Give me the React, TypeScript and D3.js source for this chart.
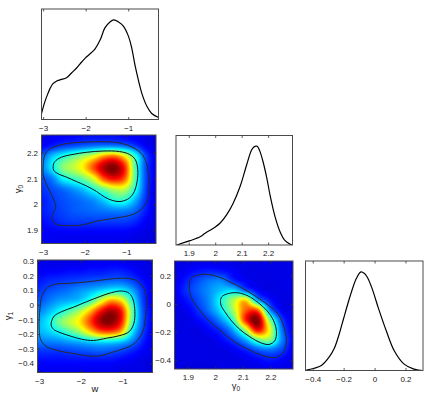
import React, { useMemo } from 'react';
import * as d3 from 'd3';

// ---------- tick labels ----------
const W_TICKS = [-3, -2, -1];
const G0_TICKS = [1.9, 2, 2.1, 2.2];
const G1_TICKS_FINE = [-0.4, -0.3, -0.2, -0.1, 0, 0.1, 0.2, 0.3];
const G1_TICKS = [-0.4, -0.2, 0, 0.2];

// ---------- axis ranges ----------
const W_RANGE = [-3.05, -0.3];
const G0_RANGE_A = [1.85, 2.27];
const G0_RANGE_C = [1.85, 2.28];
const G0_RANGE_M = [1.85, 2.29];
const G1_RANGE = [-0.46, 0.31];
const G1_RANGE_M = [-0.45, 0.31];

// ---------- marginal posteriors (normalised) ----------
const W_VALUES = [-3.05, -2.97, -2.9, -2.85, -2.78, -2.7, -2.6, -2.46, -2.34, -2.22, -2.1, -1.99, -1.88, -1.79, -1.67, -1.56, -1.44, -1.35, -1.24, -1.13, -1.01, -0.93, -0.85, -0.77, -0.69, -0.57, -0.46, -0.3];
const W_DENSITY = [0.06, 0.18, 0.26, 0.31, 0.36, 0.385, 0.4, 0.42, 0.47, 0.52, 0.58, 0.63, 0.67, 0.71, 0.8, 0.92, 0.98, 1.0, 0.98, 0.94, 0.84, 0.72, 0.54, 0.39, 0.26, 0.13, 0.06, 0.02];

const G0_VALUES = [1.853, 1.903, 1.941, 1.96, 1.991, 2.016, 2.041, 2.066, 2.092, 2.117, 2.136, 2.148, 2.157, 2.167, 2.18, 2.193, 2.205, 2.224, 2.243, 2.262, 2.287];
const G0_DENSITY = [0.0, 0.044, 0.084, 0.119, 0.17, 0.22, 0.305, 0.424, 0.593, 0.814, 0.966, 1.0, 1.0, 0.949, 0.831, 0.678, 0.509, 0.288, 0.135, 0.044, 0.0];

const G1_VALUES = [-0.445, -0.4, -0.347, -0.3, -0.265, -0.23, -0.203, -0.17, -0.152, -0.122, -0.091, -0.07, -0.05, -0.019, 0.022, 0.073, 0.124, 0.186, 0.247, 0.305];
const G1_DENSITY = [0.005, 0.02, 0.05, 0.13, 0.22, 0.38, 0.53, 0.71, 0.8, 0.93, 1.0, 0.985, 0.945, 0.83, 0.63, 0.4, 0.2, 0.067, 0.017, 0.0];

// ---------- 2D posterior grids (relative density) ----------
const GRID_W = [-3.05, -2.8, -2.55, -2.3, -2.05, -1.8, -1.55, -1.3, -1.05, -0.8, -0.55, -0.3];
const GRID_G0_ROWS = [2.27, 2.228, 2.186, 2.144, 2.102, 2.06, 2.018, 1.976, 1.934, 1.892, 1.85];
const GRID_G1_ROWS = [0.31, 0.24, 0.17, 0.1, 0.03, -0.04, -0.11, -0.18, -0.25, -0.32, -0.39, -0.46];
const GRID_G0_COLS = [1.85, 1.893, 1.936, 1.979, 2.022, 2.065, 2.108, 2.151, 2.194, 2.237, 2.28];

const Z_W_G0 = [
  [0.1, 0.11, 0.12, 0.12, 0.13, 0.13, 0.13, 0.13, 0.12, 0.11, 0.1, 0.09],
  [0.12, 0.15, 0.18, 0.2, 0.22, 0.24, 0.25, 0.25, 0.23, 0.18, 0.12, 0.1],
  [0.22, 0.32, 0.4, 0.47, 0.54, 0.62, 0.74, 0.78, 0.65, 0.42, 0.2, 0.11],
  [0.25, 0.36, 0.5, 0.56, 0.64, 0.8, 0.95, 1.0, 0.84, 0.45, 0.2, 0.11],
  [0.2, 0.25, 0.37, 0.43, 0.49, 0.6, 0.8, 0.88, 0.78, 0.45, 0.2, 0.11],
  [0.17, 0.2, 0.23, 0.27, 0.32, 0.4, 0.48, 0.56, 0.56, 0.4, 0.19, 0.1],
  [0.15, 0.18, 0.2, 0.22, 0.24, 0.27, 0.33, 0.41, 0.41, 0.3, 0.17, 0.1],
  [0.15, 0.17, 0.19, 0.21, 0.22, 0.23, 0.24, 0.25, 0.25, 0.22, 0.15, 0.1],
  [0.13, 0.15, 0.17, 0.18, 0.18, 0.18, 0.18, 0.18, 0.18, 0.16, 0.12, 0.1],
  [0.12, 0.12, 0.12, 0.12, 0.12, 0.12, 0.12, 0.12, 0.12, 0.11, 0.1, 0.09],
  [0.11, 0.11, 0.11, 0.11, 0.11, 0.11, 0.11, 0.11, 0.11, 0.1, 0.09, 0.09],
];

const Z_W_G1 = [
  [0.1, 0.1, 0.1, 0.1, 0.1, 0.11, 0.11, 0.11, 0.11, 0.1, 0.1, 0.09],
  [0.11, 0.12, 0.12, 0.13, 0.13, 0.14, 0.14, 0.15, 0.15, 0.13, 0.11, 0.1],
  [0.14, 0.16, 0.17, 0.18, 0.19, 0.2, 0.21, 0.22, 0.22, 0.19, 0.14, 0.1],
  [0.17, 0.2, 0.22, 0.24, 0.27, 0.3, 0.34, 0.38, 0.38, 0.3, 0.18, 0.11],
  [0.2, 0.24, 0.28, 0.3, 0.33, 0.42, 0.58, 0.72, 0.66, 0.42, 0.2, 0.11],
  [0.25, 0.3, 0.37, 0.45, 0.54, 0.68, 0.86, 0.96, 0.86, 0.5, 0.22, 0.12],
  [0.3, 0.36, 0.48, 0.56, 0.64, 0.8, 0.96, 1.0, 0.86, 0.48, 0.22, 0.12],
  [0.3, 0.33, 0.38, 0.45, 0.53, 0.66, 0.78, 0.8, 0.7, 0.38, 0.2, 0.11],
  [0.24, 0.25, 0.26, 0.28, 0.3, 0.33, 0.35, 0.35, 0.32, 0.25, 0.16, 0.1],
  [0.17, 0.17, 0.17, 0.18, 0.19, 0.2, 0.21, 0.2, 0.18, 0.15, 0.12, 0.1],
  [0.13, 0.13, 0.13, 0.13, 0.13, 0.13, 0.13, 0.13, 0.12, 0.11, 0.1, 0.09],
  [0.11, 0.11, 0.11, 0.11, 0.11, 0.11, 0.11, 0.11, 0.1, 0.1, 0.1, 0.09],
];

const Z_G0_G1 = [
  [0.1, 0.1, 0.1, 0.1, 0.1, 0.1, 0.1, 0.1, 0.1, 0.1, 0.1],
  [0.1, 0.12, 0.14, 0.15, 0.14, 0.12, 0.1, 0.1, 0.1, 0.1, 0.1],
  [0.1, 0.15, 0.2, 0.24, 0.25, 0.16, 0.12, 0.1, 0.1, 0.1, 0.1],
  [0.11, 0.17, 0.22, 0.27, 0.32, 0.34, 0.22, 0.13, 0.1, 0.1, 0.1],
  [0.1, 0.14, 0.2, 0.27, 0.4, 0.55, 0.66, 0.3, 0.15, 0.1, 0.1],
  [0.1, 0.11, 0.17, 0.25, 0.37, 0.55, 0.78, 0.78, 0.28, 0.12, 0.1],
  [0.1, 0.1, 0.13, 0.18, 0.28, 0.45, 0.84, 1.0, 0.52, 0.2, 0.1],
  [0.1, 0.1, 0.1, 0.13, 0.18, 0.3, 0.55, 0.88, 0.62, 0.25, 0.11],
  [0.1, 0.1, 0.1, 0.1, 0.13, 0.19, 0.3, 0.48, 0.52, 0.27, 0.12],
  [0.1, 0.1, 0.1, 0.1, 0.1, 0.12, 0.16, 0.22, 0.25, 0.2, 0.11],
  [0.1, 0.1, 0.1, 0.1, 0.1, 0.1, 0.11, 0.13, 0.15, 0.13, 0.1],
  [0.09, 0.09, 0.09, 0.09, 0.1, 0.1, 0.1, 0.1, 0.11, 0.1, 0.1],
];

// ---------- credible contours (68% inner, 95% outer) ----------
const C95_W_G0 = [[-3.01, 2.148], [-2.97, 2.193], [-2.851, 2.215], [-2.612, 2.231], [-2.294, 2.24], [-1.894, 2.243], [-1.496, 2.244], [-1.137, 2.238], [-0.858, 2.222], [-0.658, 2.199], [-0.539, 2.167], [-0.483, 2.122], [-0.483, 2.071], [-0.498, 2.02], [-0.603, 1.991], [-0.818, 1.965], [-1.097, 1.953], [-1.416, 1.945], [-1.735, 1.936], [-2.054, 1.922], [-2.373, 1.919], [-2.691, 1.924], [-2.795, 1.942], [-2.771, 1.968], [-2.707, 1.991], [-2.755, 2.02], [-2.851, 2.052], [-2.946, 2.084], [-3.01, 2.116]];
const C68_W_G0 = [[-2.771, 2.148], [-2.731, 2.167], [-2.572, 2.184], [-2.294, 2.195], [-1.974, 2.203], [-1.575, 2.208], [-1.177, 2.206], [-0.938, 2.195], [-0.794, 2.174], [-0.737, 2.135], [-0.754, 2.09], [-0.818, 2.052], [-0.938, 2.026], [-1.137, 2.013], [-1.336, 2.016], [-1.535, 2.03], [-1.735, 2.052], [-1.974, 2.073], [-2.214, 2.09], [-2.453, 2.107], [-2.652, 2.12], [-2.755, 2.133]];

const C95_W_G1 = [[-2.986, -0.009], [-2.947, 0.06], [-2.827, 0.117], [-2.629, 0.144], [-2.271, 0.151], [-1.873, 0.16], [-1.557, 0.171], [-1.238, 0.182], [-0.919, 0.185], [-0.682, 0.169], [-0.506, 0.117], [-0.443, 0.037], [-0.459, -0.054], [-0.498, -0.146], [-0.586, -0.21], [-0.762, -0.267], [-1.0, -0.298], [-1.276, -0.323], [-1.557, -0.346], [-1.873, -0.346], [-2.151, -0.332], [-2.39, -0.321], [-2.629, -0.305], [-2.843, -0.282], [-2.971, -0.237], [-3.01, -0.168], [-3.01, -0.089]];
const C68_W_G1 = [[-2.708, -0.104], [-2.651, -0.073], [-2.47, -0.043], [-2.192, -0.013], [-1.873, 0.025], [-1.557, 0.06], [-1.276, 0.087], [-1.039, 0.098], [-0.856, 0.082], [-0.762, 0.037], [-0.721, -0.043], [-0.745, -0.123], [-0.856, -0.18], [-1.078, -0.207], [-1.397, -0.225], [-1.714, -0.241], [-1.994, -0.232], [-2.271, -0.21], [-2.509, -0.187], [-2.668, -0.164], [-2.725, -0.134]];

const C95_G0_G1 = [[1.904, 0.125], [1.909, 0.184], [1.931, 0.208], [1.961, 0.215], [2.003, 0.201], [2.051, 0.161], [2.099, 0.113], [2.148, 0.054], [2.19, -0.005], [2.226, -0.069], [2.247, -0.159], [2.256, -0.254], [2.246, -0.337], [2.22, -0.377], [2.184, -0.372], [2.136, -0.337], [2.087, -0.289], [2.051, -0.242], [2.015, -0.183], [1.973, -0.112], [1.937, -0.029], [1.913, 0.042], [1.905, 0.09]];
const C68_G0_G1 = [[2.017, 0.019], [2.021, 0.054], [2.045, 0.078], [2.081, 0.083], [2.117, 0.061], [2.153, 0.014], [2.186, -0.045], [2.21, -0.117], [2.22, -0.194], [2.214, -0.258], [2.193, -0.285], [2.163, -0.273], [2.123, -0.23], [2.087, -0.178], [2.057, -0.117], [2.033, -0.053], [2.02, -0.012]];

// ---------- helpers ----------
const FONT = "'Liberation Sans', Arial, Helvetica, sans-serif";
const fmt = (v: number) => (v < 0 ? '\u2212' : '') + String(Math.round(Math.abs(v) * 10) / 10);

function jet(v: number): [number, number, number] {
  const c = (x: number) => Math.max(0, Math.min(1, x));
  return [c(1.5 - Math.abs(4 * v - 3)), c(1.5 - Math.abs(4 * v - 2)), c(1.5 - Math.abs(4 * v - 1))];
}

function cubic(p0: number, p1: number, p2: number, p3: number, t: number) {
  return p1 + 0.5 * t * (p2 - p0 + t * (2 * p0 - 5 * p1 + 4 * p2 - p3 + t * (3 * (p1 - p2) + p3 - p0)));
}

function sampleGrid(z: number[][], fr: number, fc: number) {
  const nr = z.length, nc = z[0].length;
  const r = Math.floor(fr), c = Math.floor(fc);
  const tr = fr - r, tc = fc - c;
  const get = (i: number, j: number) => z[Math.max(0, Math.min(nr - 1, i))][Math.max(0, Math.min(nc - 1, j))];
  const rv: number[] = [];
  for (let i = -1; i <= 2; i++) rv.push(cubic(get(r + i, c - 1), get(r + i, c), get(r + i, c + 1), get(r + i, c + 2), tc));
  return cubic(rv[0], rv[1], rv[2], rv[3], tr);
}

type Box = { x0: number; x1: number; y0: number; y1: number };

function heatImage(z: number[][], cols: number[], rows: number[], xs: any, ys: any, box: Box) {
  const w = box.x1 - box.x0, h = box.y1 - box.y0;
  const W = Math.round(w) * 2, H = Math.round(h) * 2;
  const canvas = document.createElement('canvas');
  canvas.width = W; canvas.height = H;
  const ctx = canvas.getContext('2d');
  if (!ctx) return '';
  const img = ctx.createImageData(W, H);
  const ci = d3.scaleLinear().domain([cols[0], cols[cols.length - 1]]).range([0, cols.length - 1]);
  const ri = d3.scaleLinear().domain([rows[0], rows[rows.length - 1]]).range([0, rows.length - 1]);
  for (let j = 0; j < H; j++) {
    const fr = Math.max(0, Math.min(rows.length - 1, ri(ys.invert(box.y0 + ((j + 0.5) * h) / H))));
    for (let i = 0; i < W; i++) {
      const fc = Math.max(0, Math.min(cols.length - 1, ci(xs.invert(box.x0 + ((i + 0.5) * w) / W))));
      const v = Math.max(0, Math.min(1, sampleGrid(z, fr, fc)));
      const [r, g, b] = jet(v);
      const k = (j * W + i) * 4;
      img.data[k] = r * 255; img.data[k + 1] = g * 255; img.data[k + 2] = b * 255; img.data[k + 3] = 255;
    }
  }
  ctx.putImageData(img, 0, 0);
  return canvas.toDataURL();
}

function Frame({ box, xs, xTicks, ys, yTicks }: { box: Box; xs: any; xTicks: number[]; ys?: any; yTicks?: number[] }) {
  const tl = 2.5;
  return (
    <g>
      <rect x={box.x0} y={box.y0} width={box.x1 - box.x0} height={box.y1 - box.y0} fill="none" stroke="#4a4a4a" strokeWidth={1} />
      {xTicks.map((t) => (
        <g key={'x' + t}>
          <line x1={xs(t)} x2={xs(t)} y1={box.y1} y2={box.y1 - tl} stroke="#333" strokeWidth={0.8} />
          <line x1={xs(t)} x2={xs(t)} y1={box.y0} y2={box.y0 + tl} stroke="#333" strokeWidth={0.8} />
          <text x={xs(t)} y={box.y1 + 11} textAnchor="middle" fontSize={8} fill="#222" fontFamily={FONT}>{fmt(t)}</text>
        </g>
      ))}
      {ys && yTicks && yTicks.map((t) => (
        <g key={'y' + t}>
          <line x1={box.x0} x2={box.x0 + tl} y1={ys(t)} y2={ys(t)} stroke="#333" strokeWidth={0.8} />
          <line x1={box.x1} x2={box.x1 - tl} y1={ys(t)} y2={ys(t)} stroke="#333" strokeWidth={0.8} />
          <text x={box.x0 - 3.5} y={ys(t)} dy="0.33em" textAnchor="end" fontSize={8} fill="#222" fontFamily={FONT}>{fmt(t)}</text>
        </g>
      ))}
    </g>
  );
}

function Density({ id, box, range, xv, dv, ticks }: { id: string; box: Box; range: number[]; xv: number[]; dv: number[]; ticks: number[] }) {
  const xs = d3.scaleLinear().domain(range).range([box.x0, box.x1]);
  const maxD = d3.max(dv) as number;
  const ys = d3.scaleLinear().domain([0, maxD * 1.11]).range([box.y1, box.y0]);
  const pts = xv.map((x, i) => [x, dv[i]] as [number, number]);
  const path = d3.line<[number, number]>().x((d) => xs(d[0])).y((d) => ys(d[1])).curve(d3.curveCatmullRom.alpha(0.5))(pts) || '';
  return (
    <g>
      <clipPath id={id}><rect x={box.x0} y={box.y0} width={box.x1 - box.x0} height={box.y1 - box.y0} /></clipPath>
      <rect x={box.x0} y={box.y0} width={box.x1 - box.x0} height={box.y1 - box.y0} fill="#fff" />
      <path d={path} fill="none" stroke="#000" strokeWidth={1.2} clipPath={`url(#${id})`} />
      <Frame box={box} xs={xs} xTicks={ticks} />
    </g>
  );
}

function Heat({ id, box, xr, yr, z, cols, rows, c68, c95, xTicks, yTicks }: any) {
  const xs = d3.scaleLinear().domain(xr).range([box.x0, box.x1]);
  const ys = d3.scaleLinear().domain(yr).range([box.y1, box.y0]);
  const href = useMemo(() => heatImage(z, cols, rows, xs, ys, box), []);
  const line = d3.line<number[]>().x((d) => xs(d[0])).y((d) => ys(d[1])).curve(d3.curveCatmullRomClosed.alpha(0.5));
  return (
    <g>
      <clipPath id={id}><rect x={box.x0} y={box.y0} width={box.x1 - box.x0} height={box.y1 - box.y0} /></clipPath>
      <image href={href} x={box.x0} y={box.y0} width={box.x1 - box.x0} height={box.y1 - box.y0} preserveAspectRatio="none" />
      <g clipPath={`url(#${id})`}>
        <path d={line(c95) || ''} fill="none" stroke="#2a2a2a" strokeWidth={1} />
        <path d={line(c68) || ''} fill="none" stroke="#111" strokeWidth={1} />
      </g>
      <Frame box={box} xs={xs} xTicks={xTicks} ys={ys} yTicks={yTicks} />
    </g>
  );
}

export default function App() {
  const bTopW: Box = { x0: 41.5, x1: 158.5, y0: 9, y1: 119.5 };
  const bWG0: Box = { x0: 41.5, x1: 156, y0: 135, y1: 243.5 };
  const bWG1: Box = { x0: 37.5, x1: 152.5, y0: 260, y1: 372.5 };
  const bG0: Box = { x0: 176, x1: 292.5, y0: 135.5, y1: 245 };
  const bG0G1: Box = { x0: 174.5, x1: 293, y0: 261, y1: 369 };
  const bG1: Box = { x0: 305.5, x1: 423, y0: 261, y1: 370.5 };

  return (
    <svg width={436} height={397} style={{ position: 'absolute', left: 0, top: 0, background: '#fff' }} fontFamily={FONT}>
      <rect x={0} y={0} width={436} height={397} fill="#fff" />
      <Density id="cw" box={bTopW} range={W_RANGE} xv={W_VALUES} dv={W_DENSITY} ticks={W_TICKS} />
      <Density id="cg0" box={bG0} range={G0_RANGE_M} xv={G0_VALUES} dv={G0_DENSITY} ticks={G0_TICKS} />
      <Density id="cg1" box={bG1} range={G1_RANGE_M} xv={G1_VALUES} dv={G1_DENSITY} ticks={G1_TICKS} />
      <Heat id="h1" box={bWG0} xr={W_RANGE} yr={G0_RANGE_A} z={Z_W_G0} cols={GRID_W} rows={GRID_G0_ROWS} c68={C68_W_G0} c95={C95_W_G0} xTicks={W_TICKS} yTicks={G0_TICKS} />
      <Heat id="h2" box={bWG1} xr={W_RANGE} yr={G1_RANGE} z={Z_W_G1} cols={GRID_W} rows={GRID_G1_ROWS} c68={C68_W_G1} c95={C95_W_G1} xTicks={W_TICKS} yTicks={G1_TICKS_FINE} />
      <Heat id="h3" box={bG0G1} xr={G0_RANGE_C} yr={G1_RANGE} z={Z_G0_G1} cols={GRID_G0_COLS} rows={GRID_G1_ROWS} c68={C68_G0_G1} c95={C95_G0_G1} xTicks={G0_TICKS} yTicks={G1_TICKS} />
      {/* axis labels */}
      <text transform="translate(21,189) rotate(-90)" textAnchor="middle" fontSize={9.5} fill="#222">γ<tspan fontSize={6.5} dy={2}>0</tspan></text>
      <text transform="translate(11,316) rotate(-90)" textAnchor="middle" fontSize={9.5} fill="#222">γ<tspan fontSize={6.5} dy={2}>1</tspan></text>
      <text x={95} y={391.5} textAnchor="middle" fontSize={9.5} fill="#222">w</text>
      <text x={236} y={388.5} textAnchor="middle" fontSize={9.5} fill="#222">γ<tspan fontSize={6.5} dy={2}>0</tspan></text>
    </svg>
  );
}
